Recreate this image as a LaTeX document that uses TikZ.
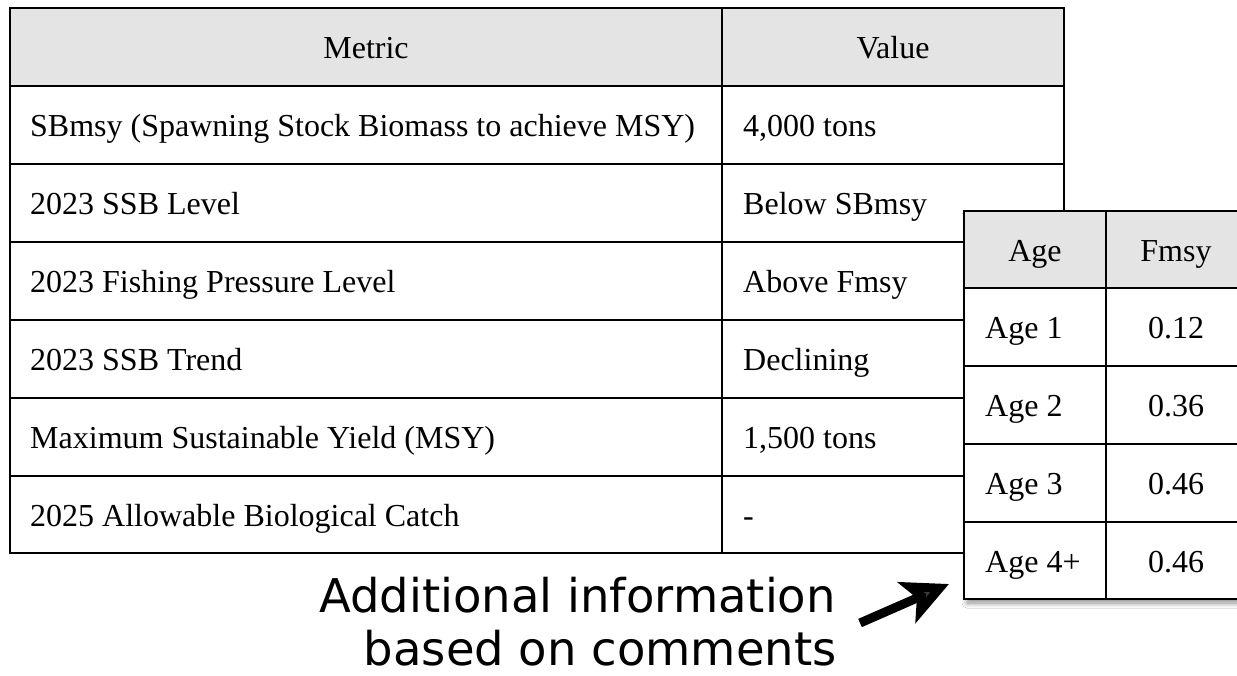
\documentclass[tikz,border=0pt]{standalone}
\usepackage{fontspec}
\setmainfont{Liberation Serif}
\newfontfamily\sansf{DejaVu Sans}
\usetikzlibrary{arrows.meta,shadows.blur}
\definecolor{hdrgray}{HTML}{E4E4E4}
\tikzset{
  tline/.style={line width=2pt, draw=black},
  hdrfill/.style={fill=hdrgray},
  lcell/.style={font=\fontsize{32}{38}\selectfont, anchor=base west, inner sep=0pt},
  ccell/.style={font=\fontsize{32}{38}\selectfont, anchor=base, inner sep=0pt},
  note/.style={font=\sansf\fontsize{46.5}{50}\selectfont, anchor=base east, inner sep=0pt},
  bigarrow/.style={line width=9pt, -{Stealth[length=46pt,width=44pt,inset=11pt]}}
}
\begin{document}
\begin{tikzpicture}[x=1pt,y=-1pt]
\useasboundingbox (0,0) rectangle (1237,675);
\clip (0,0) rectangle (1237,675);
\fill[white] (0,0) rectangle (1237,675);
% ---- main table ----
\fill[hdrfill] (10,8) rectangle (1064,86);
\draw[tline] (10,8) rectangle (1064,553);
\foreach \y in {86,164,242,320,398,476} \draw[tline] (10,\y) -- (1064,\y);
\draw[tline] (722,8) -- (722,553);
\node[ccell] (hm) at (366,58) {Metric};
\node[ccell] (hv) at (893,58) {Value};
\node[lcell] (m1) at (30,136) {SBmsy (Spawning Stock Biomass to achieve MSY)};
\node[lcell] (v1) at (743,136) {4,000 tons};
\node[lcell] (m2) at (30,214) {2023 SSB Level};
\node[lcell] (v2) at (743,214) {Below SBmsy};
\node[lcell] (m3) at (30,292) {2023 Fishing Pressure Level};
\node[lcell] (v3) at (743,292) {Above Fmsy};
\node[lcell] (m4) at (30,370) {2023 SSB Trend};
\node[lcell] (v4) at (743,370) {Declining};
\node[lcell] (m5) at (30,448) {Maximum Sustainable Yield (MSY)};
\node[lcell] (v5) at (743,448) {1,500 tons};
\node[lcell] (m6) at (30,526) {2025 Allowable Biological Catch};
\node[lcell] (v6) at (743,526) {-};
% ---- side table ----
\fill[white, blur shadow={shadow xshift=3pt, shadow yshift=-4pt, shadow blur radius=5pt, shadow blur steps=12, shadow opacity=45}] (964,211) rectangle (1247,599);
\fill[hdrfill] (964,211) rectangle (1247,288);
\draw[tline] (964,211) rectangle (1247,599);
\foreach \y in {288,366,444,522} \draw[tline] (964,\y) -- (1247,\y);
\draw[tline] (1106,211) -- (1106,599);
\node[ccell] (ha) at (1035,261) {Age};
\node[ccell] (hf) at (1176,261) {Fmsy};
\node[lcell] (a1) at (985,338) {Age 1};
\node[ccell] (f1) at (1176,338) {0.12};
\node[lcell] (a2) at (985,416) {Age 2};
\node[ccell] (f2) at (1176,416) {0.36};
\node[lcell] (a3) at (985,494) {Age 3};
\node[ccell] (f3) at (1176,494) {0.46};
\node[lcell] (a4) at (985,572) {Age 4+};
\node[ccell] (f4) at (1176,572) {0.46};
% ---- note and arrow ----
\node[note] (n1) at (836,612) {Additional information};
\node[note] (n2) at (837,665) {based on comments};
\coordinate (arrTail) at (860,623);
\coordinate (arrTip) at (949,584);
\draw[bigarrow] (arrTail) -- (arrTip);
\end{tikzpicture}
\end{document}
